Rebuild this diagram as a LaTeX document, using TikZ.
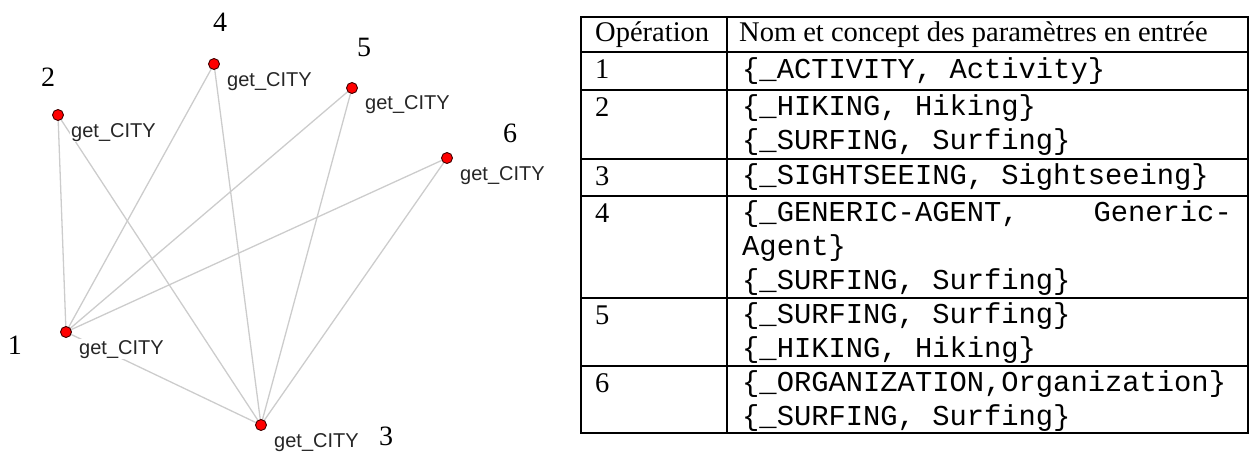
\documentclass[tikz,border=0pt]{standalone}
\usepackage{fontspec}
\setmainfont{Liberation Serif}
\setmonofont{Liberation Mono}
\newfontfamily\arialf{Liberation Sans}
\begin{document}
\begin{tikzpicture}[x=1pt,y=-1pt,
  edge/.style={draw=black!20,line width=1.3pt},
  dot/.style={circle,fill=red,draw=black!75!red,line width=0.9pt,minimum size=11pt,inner sep=0pt},
  glabel/.style={anchor=base west,fill=white,inner sep=1pt,font=\arialf\fontsize{20}{22}\selectfont,text=black!85},
  num/.style={font=\fontsize{28}{32}\selectfont},
  tline/.style={line width=2pt},
  hd/.style={anchor=base west,inner sep=0pt,font=\fontsize{28.5}{32}\selectfont},
  mono/.style={anchor=base west,inner sep=0pt,font=\ttfamily\fontsize{28.8}{34}\selectfont}]
\useasboundingbox (0,0) rectangle (1250,452);
% graph positions
\coordinate (p1) at (66,332);
\coordinate (p2) at (58,115);
\coordinate (p3) at (261,425);
\coordinate (p4) at (214,64);
\coordinate (p5) at (352,88);
\coordinate (p6) at (447,158);
% edges
\foreach \a/\b in {1/2,1/4,1/5,1/6,1/3,2/3,4/3,5/3,6/3}
  \draw[edge] (p\a) -- (p\b);
% labels
\foreach \i in {1,...,6}
  \node[glabel] (l\i) at ([shift={(12,22)}]p\i) {get\_CITY};
% dots
\foreach \i in {1,...,6}
  \node[dot] (n\i) at (p\i) {};
% numbers
\node[num] (k1) at (15,345) {1};
\node[num] (k2) at (48,77) {2};
\node[num] (k3) at (386,436) {3};
\node[num] (k4) at (220,22) {4};
\node[num] (k5) at (364,47) {5};
\node[num] (k6) at (510,133) {6};
% table
\draw[tline] (581,17) rectangle (1248,433);
\draw[tline] (727,17) -- (727,433);
\foreach \yy in {52,90,159,196,298,366}
  \draw[tline] (581,\yy) -- (1248,\yy);
\node[hd] (h1) at (595,42) {Opération};
\node[hd] (h2) at (739,42) {Nom et concept des paramètres en entrée};
\node[hd] (r1) at (595,78) {1};
\node[hd] (r2) at (595,116) {2};
\node[hd] (r3) at (595,185) {3};
\node[hd] (r4) at (595,222) {4};
\node[hd] (r5) at (595,324) {5};
\node[hd] (r6) at (595,392) {6};
\node[mono] (m1) at (742,78) {\{\_ACTIVITY, Activity\}};
\node[mono] (m2a) at (742,115) {\{\_HIKING, Hiking\}};
\node[mono] (m2b) at (742,149) {\{\_SURFING, Surfing\}};
\node[mono] (m3) at (742,184) {\{\_SIGHTSEEING, Sightseeing\}};
\node[mono] (m4a) at (742,221) {\{\_GENERIC-AGENT,};
\node[mono,anchor=base east] (m4b) at (1232,221) {Generic-};
\node[mono] (m4c) at (742,255) {Agent\}};
\node[mono] (m4d) at (742,289) {\{\_SURFING, Surfing\}};
\node[mono] (m5a) at (742,323) {\{\_SURFING, Surfing\}};
\node[mono] (m5b) at (742,357) {\{\_HIKING, Hiking\}};
\node[mono] (m6a) at (742,391) {\{\_ORGANIZATION,Organization\}};
\node[mono] (m6b) at (742,425) {\{\_SURFING, Surfing\}};
\end{tikzpicture}
\end{document}
